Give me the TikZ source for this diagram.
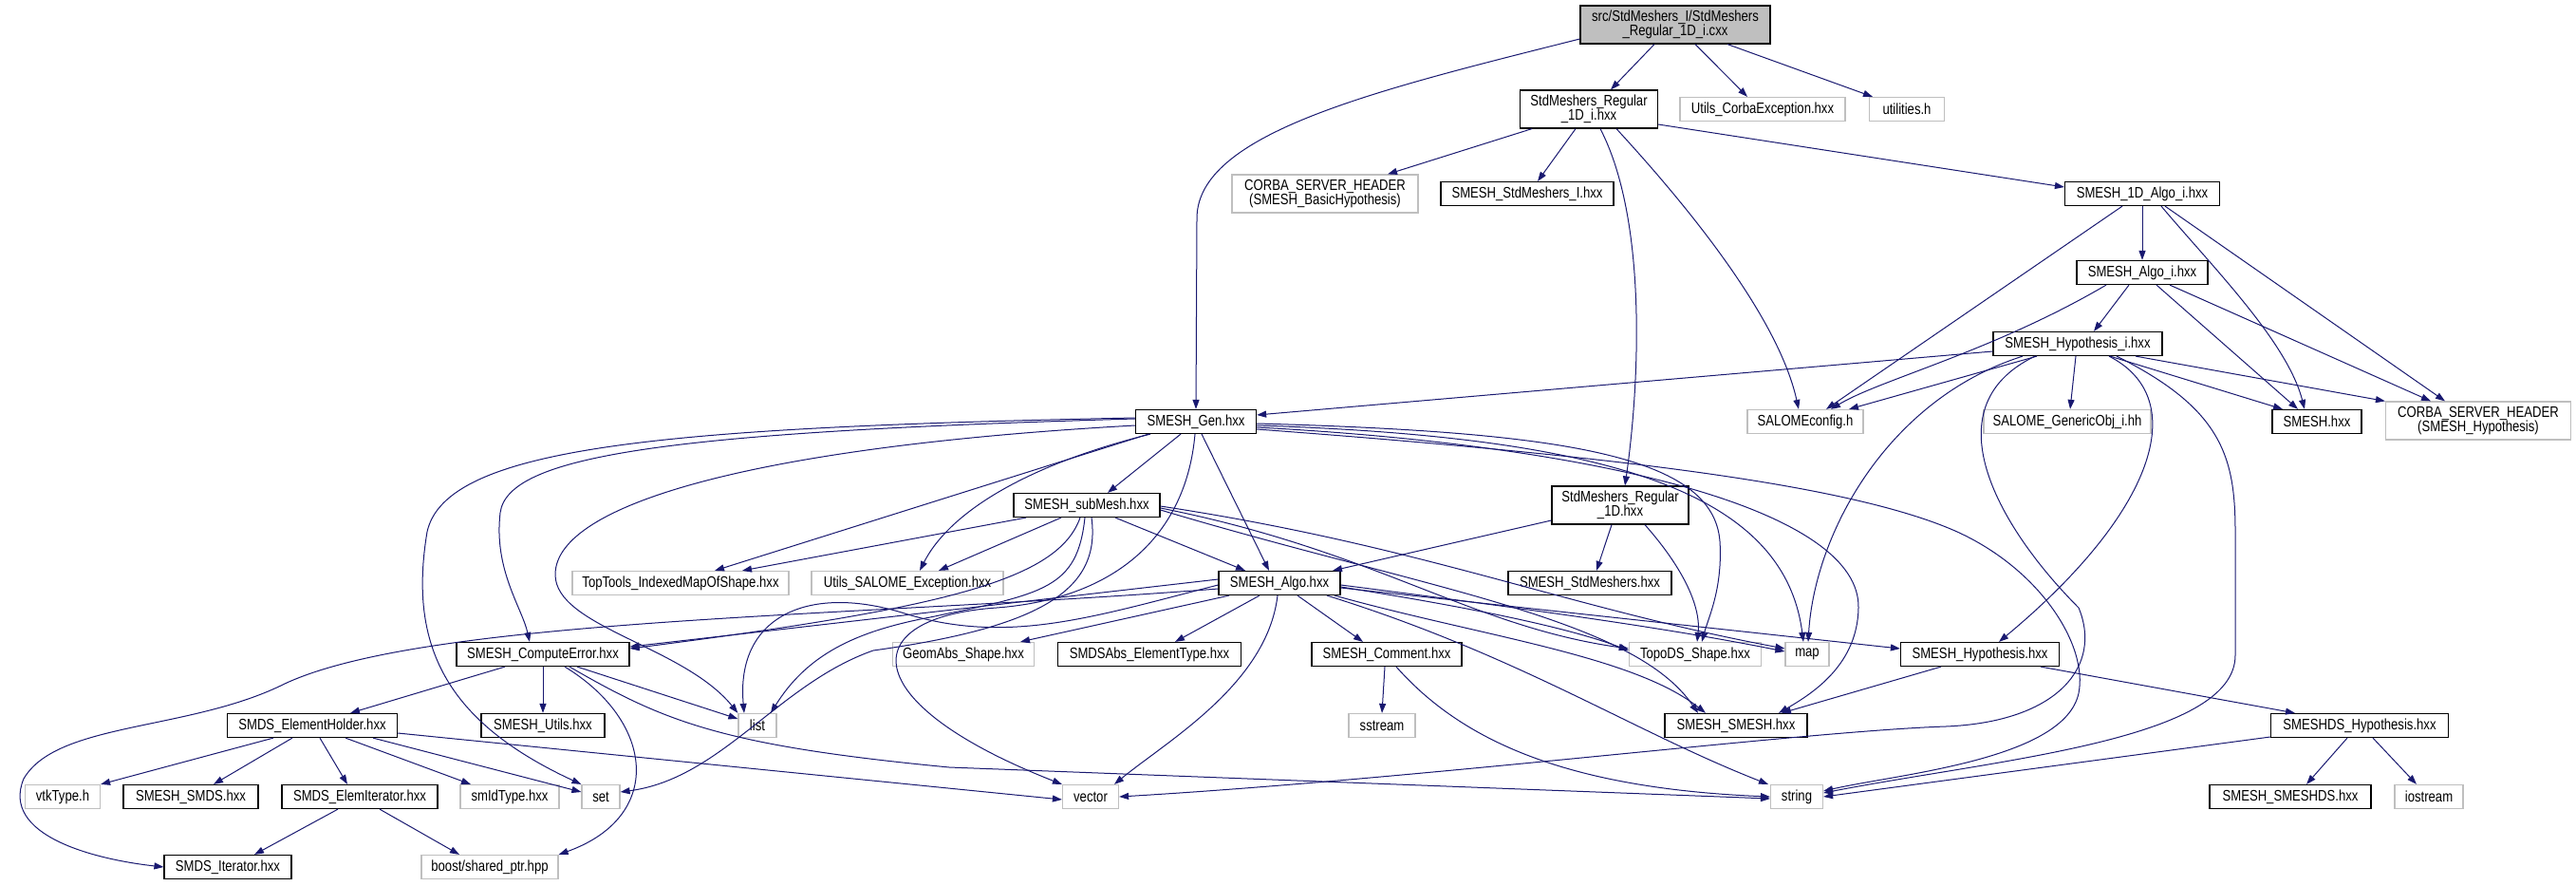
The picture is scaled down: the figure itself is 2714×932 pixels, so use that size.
\documentclass[tikz,border=0pt]{standalone}
\usepackage{fontspec}
\newfontfamily\doxfont[FakeStretch=0.82]{Liberation Sans}
\usetikzlibrary{arrows.meta}
\definecolor{depblue}{HTML}{191970}
\definecolor{extgrey}{HTML}{BFBFBF}
\tikzset{
  >={Triangle[length=10pt,width=7pt]},
  font=\doxfont\fontsize{16}{15.5}\selectfont,
  hdr/.style={draw=black,line width=1.2pt,fill=white,inner sep=3pt,
              minimum height=25pt,align=center},
  ext/.style={hdr,draw=extgrey},
  tall/.style={minimum height=40pt},
  rootfile/.style={hdr,tall,fill=extgrey},
  dep/.style={->,line width=1pt,draw=depblue},
}
\begin{document}
\begin{tikzpicture}[x=1pt,y=-1pt]
  \useasboundingbox (0,0) rectangle (2714,932);

  % top rows
  \node[rootfile,minimum width=200pt] (root) at (1765,26) {src/StdMeshers\_I/StdMeshers\\\_Regular\_1D\_i.cxx};
  \node[hdr,tall,minimum width=145pt] (r1di) at (1674,115) {StdMeshers\_Regular\\\_1D\_i.hxx};
  \node[ext,minimum width=174pt] (corbaexc) at (1857,115) {Utils\_CorbaException.hxx};
  \node[ext,minimum width=79pt] (utilities) at (2009,115) {utilities.h};
  \node[ext,tall,minimum width=196pt] (corbabasic) at (1396,204) {CORBA\_SERVER\_HEADER\\(SMESH\_BasicHypothesis)};
  \node[hdr,minimum width=182pt] (stdmi) at (1609,204) {SMESH\_StdMeshers\_I.hxx};
  \node[hdr,minimum width=163pt] (algo1d) at (2257,204) {SMESH\_1D\_Algo\_i.hxx};
  \node[hdr,minimum width=138pt] (algoi) at (2257,287) {SMESH\_Algo\_i.hxx};
  \node[hdr,minimum width=178pt] (hypi) at (2189,362) {SMESH\_Hypothesis\_i.hxx};

  \node[ext,minimum width=122pt] (salomecfg) at (1902,444) {SALOMEconfig.h};
  \node[ext,minimum width=176pt] (genobj) at (2178,444) {SALOME\_GenericObj\_i.hh};
  \node[hdr,minimum width=94pt] (smesh) at (2441,444) {SMESH.hxx};
  \node[ext,tall,minimum width=195pt] (corbahyp) at (2611,443) {CORBA\_SERVER\_HEADER\\(SMESH\_Hypothesis)};
  \node[hdr,minimum width=127pt] (gen) at (1260,444) {SMESH\_Gen.hxx};

  \node[hdr,minimum width=154pt] (submesh) at (1145,532) {SMESH\_subMesh.hxx};
  \node[hdr,tall,minimum width=144pt] (r1d) at (1707,532) {StdMeshers\_Regular\\\_1D.hxx};

  \node[ext,minimum width=228pt] (toptools) at (717,614) {TopTools\_IndexedMapOfShape.hxx};
  \node[ext,minimum width=202pt] (utilsexc) at (956,614) {Utils\_SALOME\_Exception.hxx};
  \node[hdr,minimum width=128pt] (algo) at (1348,614) {SMESH\_Algo.hxx};
  \node[hdr,minimum width=172pt] (stdm) at (1675,614) {SMESH\_StdMeshers.hxx};

  \node[hdr,minimum width=182pt] (comperr) at (572,689) {SMESH\_ComputeError.hxx};
  \node[ext,minimum width=149pt] (geomabs) at (1015,689) {GeomAbs\_Shape.hxx};
  \node[hdr,minimum width=193pt] (elemtype) at (1211,689) {SMDSAbs\_ElementType.hxx};
  \node[hdr,minimum width=158pt] (comment) at (1461,689) {SMESH\_Comment.hxx};
  \node[ext,minimum width=139pt] (topods) at (1786,689) {TopoDS\_Shape.hxx};
  \node[ext,minimum width=46pt] (map) at (1904,689) {map};
  \node[hdr,minimum width=167pt] (hyp) at (2086,689) {SMESH\_Hypothesis.hxx};

  \node[hdr,minimum width=179pt] (holder) at (329,764) {SMDS\_ElementHolder.hxx};
  \node[hdr,minimum width=130pt] (utils) at (572,764) {SMESH\_Utils.hxx};
  \node[ext,minimum width=40pt] (list) at (798,764) {list};
  \node[ext,minimum width=70pt] (sstream) at (1456,764) {sstream};
  \node[hdr,minimum width=150pt] (smeshmesh) at (1829,764) {SMESH\_SMESH.hxx};
  \node[hdr,minimum width=187pt] (dshyp) at (2486,764) {SMESHDS\_Hypothesis.hxx};

  \node[ext,minimum width=79pt] (vtk) at (66,839) {vtkType.h};
  \node[hdr,minimum width=142pt] (smds) at (201,839) {SMESH\_SMDS.hxx};
  \node[hdr,minimum width=164pt] (elemit) at (379,839) {SMDS\_ElemIterator.hxx};
  \node[ext,minimum width=104pt] (smid) at (537,839) {smIdType.hxx};
  \node[ext,minimum width=40pt] (set) at (633,839) {set};
  \node[ext,minimum width=59pt] (vector) at (1149,839) {vector};
  \node[ext,minimum width=55pt] (string) at (1893,839) {string};
  \node[hdr,minimum width=170pt] (smeshds) at (2413,839) {SMESH\_SMESHDS.hxx};
  \node[ext,minimum width=72pt] (iostream) at (2559,839) {iostream};

  \node[hdr,minimum width=134pt] (iter) at (240,913) {SMDS\_Iterator.hxx};
  \node[ext,minimum width=144pt] (boost) at (516,913) {boost/shared\_ptr.hpp};

  % root file
  \draw[dep] ([xshift=-22pt]root.south) -- ([xshift=23pt]r1di.north);
  \draw[dep] ([xshift=21pt]root.south) -- ([xshift=-16pt]corbaexc.north);
  \draw[dep] ([xshift=55pt]root.south) -- ([xshift=-36pt]utilities.north);
  \draw[dep] ([yshift=-15pt]root.west) .. controls (1450,95) and (1261,140) .. (1261,230) -- (gen.north);

  % StdMeshers_Regular_1D_i.hxx
  \draw[dep] ([xshift=-60pt]r1di.south) -- ([xshift=66pt]corbabasic.north);
  \draw[dep] ([xshift=-14pt]r1di.south) -- ([xshift=11pt]stdmi.north);
  \draw[dep] ([xshift=12pt]r1di.south) .. controls (1735,230) and (1728,400) .. ([xshift=5pt]r1d.north);
  \draw[dep] ([xshift=29pt]r1di.south) .. controls (1790,230) and (1875,340) .. ([xshift=-7pt]salomecfg.north);
  \draw[dep] ([yshift=-16pt]r1di.east) -- ([yshift=7pt]algo1d.west);

  % SMESH_1D_Algo_i.hxx, SMESH_Algo_i.hxx
  \draw[dep] ([xshift=-21pt]algo1d.south) -- ([xshift=22pt]salomecfg.north);
  \draw[dep] (algo1d) -- (algoi);
  \draw[dep] ([xshift=20pt]algo1d.south) .. controls (2330,280) and (2410,360) .. ([xshift=-13pt]smesh.north);
  \draw[dep] ([xshift=24pt]algo1d.south) -- ([xshift=-35pt]corbahyp.north);
  \draw[dep] ([xshift=-38pt]algoi.south) .. controls (2100,370) and (1980,400) .. ([xshift=27pt]salomecfg.north);
  \draw[dep] ([xshift=-14pt]algoi.south) -- ([xshift=17pt]hypi.north);
  \draw[dep] ([xshift=15pt]algoi.south) -- ([xshift=-20pt]smesh.north);
  \draw[dep] ([xshift=29pt]algoi.south) -- ([xshift=-50pt]corbahyp.north);

  % SMESH_Hypothesis_i.hxx
  \draw[dep] ([yshift=-8pt]hypi.west) -- ([yshift=7pt]gen.east);
  \draw[dep] ([xshift=-43pt]hypi.south) -- ([xshift=46pt]salomecfg.north);
  \draw[dep] ([xshift=-2pt]hypi.south) -- ([xshift=3pt]genobj.north);
  \draw[dep] ([xshift=34pt]hypi.south) -- ([xshift=-36pt]smesh.north);
  \draw[dep] ([xshift=61pt]hypi.south) -- (corbahyp.north west);
  \draw[dep] ([xshift=-58pt]hypi.south) .. controls (1990,420) and (1912,560) .. ([xshift=1pt]map.north);
  \draw[dep] ([xshift=-45pt]hypi.south) .. controls (2030,430) and (2110,560) .. (2190,640)
    .. controls (2215,700) and (2170,760) .. (2050,765) .. controls (1900,770) and (1500,820) .. (vector.east);
  \draw[dep] ([xshift=33pt]hypi.south) .. controls (2310,420) and (2270,540) .. ([xshift=20pt]hyp.north);
  \draw[dep] ([xshift=41pt]hypi.south) .. controls (2340,430) and (2355,480) .. (2355,560) -- (2355,690)
    .. controls (2355,780) and (2100,800) .. ([yshift=4pt]string.east);

  % SMESH_Gen.hxx
  \draw[dep] ([xshift=-16pt]gen.south) -- ([xshift=22pt]submesh.north);
  \draw[dep] ([xshift=6pt]gen.south) -- ([xshift=-11pt]algo.north);
  \draw[dep] ([yshift=3pt]gen.west) .. controls (700,455) and (535,480) .. (527,540)
    .. controls (520,600) and (550,640) .. ([xshift=-14pt]comperr.north);
  \draw[dep] ([yshift=4pt]gen.west) .. controls (700,450) and (470,470) .. (450,560)
    .. controls (430,680) and (470,760) .. (set.north west);
  \draw[dep] ([xshift=-50pt]gen.south) -- ([xshift=36pt]toptools.north);
  \draw[dep] ([xshift=-48pt]gen.south) .. controls (1080,490) and (1000,540) .. ([xshift=13pt]utilsexc.north);
  \draw[dep] ([yshift=-4pt]gen.west) .. controls (800,470) and (585,530) .. (585,605)
    .. controls (585,660) and (720,680) .. (list.north west);
  \draw[dep] ([xshift=-1pt]gen.south) .. controls (1250,560) and (1180,630) .. (1050,640)
    .. controls (900,650) and (900,740) .. (vector.north west);
  \draw[dep] ([yshift=-2pt]gen.east) .. controls (1650,455) and (1805,480) .. (1812,570)
    .. controls (1815,620) and (1800,650) .. ([xshift=7pt]topods.north);
  \draw[dep] ([yshift=-4pt]gen.east) .. controls (1700,460) and (1880,520) .. ([xshift=-4pt]map.north);
  \draw[dep] ([yshift=-6pt]gen.east) .. controls (1700,470) and (1960,540) .. (1958,640)
    .. controls (1957,700) and (1910,730) .. ([xshift=45pt]smeshmesh.north);
  \draw[dep] ([yshift=-8pt]gen.east) .. controls (1700,480) and (1950,510) .. (2062,560)
    .. controls (2150,600) and (2200,680) .. (2190,730) .. controls (2175,800) and (2000,815) .. ([yshift=6pt]string.east);

  % SMESH_subMesh.hxx
  \draw[dep] ([xshift=-64pt]submesh.south) -- ([xshift=65pt]toptools.north);
  \draw[dep] ([xshift=-27pt]submesh.south) -- ([xshift=33pt]utilsexc.north);
  \draw[dep] ([xshift=30pt]submesh.south) -- ([xshift=-36pt]algo.north);
  \draw[dep] ([xshift=-7pt]submesh.south) .. controls (1115,610) and (1000,640) .. ([yshift=6pt]comperr.east);
  \draw[dep] ([xshift=-2pt]submesh.south) .. controls (1135,620) and (1100,625) .. (980,650)
    .. controls (900,665) and (850,690) .. ([xshift=14pt]list.north);
  \draw[dep] ([xshift=5pt]submesh.south) .. controls (1160,620) and (1100,660) .. (920,685)
    .. controls (820,720) and (760,820) .. ([yshift=5pt]set.east);
  \draw[dep] ([yshift=-3pt]submesh.east) .. controls (1450,580) and (1550,660) .. ([yshift=6pt]topods.west);
  \draw[dep] ([yshift=-1pt]submesh.east) .. controls (1500,575) and (1650,640) .. ([yshift=6pt]map.west);
  \draw[dep] ([yshift=-5pt]submesh.east) .. controls (1500,620) and (1720,650) .. ([xshift=-40pt]smeshmesh.north);

  % SMESH_Algo.hxx
  \draw[dep] ([xshift=-21pt]algo.south) -- ([xshift=27pt]elemtype.north);
  \draw[dep] ([xshift=19pt]algo.south) -- ([xshift=-25pt]comment.north);
  \draw[dep] ([xshift=-53pt]algo.south) -- ([xshift=60pt]geomabs.north);
  \draw[dep] ([yshift=4pt]algo.west) -- ([yshift=8pt]comperr.east);
  \draw[dep] ([yshift=-2pt]algo.west) .. controls (1150,650) and (1060,680) .. (950,645)
    .. controls (850,615) and (775,650) .. ([xshift=-14pt]list.north);
  \draw[dep] ([xshift=-2pt]algo.south) .. controls (1335,720) and (1230,780) .. ([xshift=25pt]vector.north);
  \draw[dep] ([yshift=-4pt]algo.east) .. controls (1550,640) and (1650,660) .. ([yshift=4pt]topods.west);
  \draw[dep] ([yshift=-2pt]algo.east) .. controls (1600,640) and (1750,660) .. ([yshift=3pt]map.west);
  \draw[dep] ([yshift=-5pt]algo.east) -- ([yshift=6pt]hyp.west);
  \draw[dep] ([xshift=58pt]algo.south) .. controls (1560,670) and (1720,690) .. ([xshift=-32pt]smeshmesh.north);
  \draw[dep] ([xshift=50pt]algo.south) .. controls (1600,690) and (1720,770) .. ([xshift=-30pt]string.north);
  \draw[dep] ([yshift=-6pt]algo.west) .. controls (900,650) and (450,650) .. (300,720)
    .. controls (200,770) and (60,760) .. (25,820) .. controls (0,880) and (100,905) .. (iter.west);

  % StdMeshers_Regular_1D.hxx
  \draw[dep] ([yshift=-16pt]r1d.west) -- ([xshift=56pt]algo.north);
  \draw[dep] ([xshift=-9pt]r1d.south) -- ([xshift=7pt]stdm.north);
  \draw[dep] ([xshift=26pt]r1d.south) .. controls (1775,600) and (1792,640) .. ([xshift=2pt]topods.north);

  % SMESH_Comment.hxx, SMESH_Hypothesis.hxx, SMESHDS_Hypothesis.hxx
  \draw[dep] ([xshift=-2pt]comment.south) -- (sstream.north);
  \draw[dep] ([xshift=10pt]comment.south) .. controls (1540,780) and (1650,830) .. (string.west);
  \draw[dep] ([xshift=-41pt]hyp.south) -- ([xshift=48pt]smeshmesh.north);
  \draw[dep] ([xshift=64pt]hyp.south) -- ([xshift=-68pt]dshyp.north);
  \draw[dep] ([yshift=-12pt]dshyp.west) -- (string.east);
  \draw[dep] ([xshift=-13pt]dshyp.south) -- ([xshift=17pt]smeshds.north);
  \draw[dep] ([xshift=14pt]dshyp.south) -- ([xshift=-13pt]iostream.north);

  % SMESH_ComputeError.hxx
  \draw[dep] ([xshift=-40pt]comperr.south) -- ([xshift=40pt]holder.north);
  \draw[dep] (comperr) -- (utils);
  \draw[dep] ([xshift=36pt]comperr.south) -- ([yshift=7pt]list.west);
  \draw[dep] ([xshift=23pt]comperr.south) .. controls (690,760) and (700,860) .. (boost.north east);
  \draw[dep] ([xshift=28pt]comperr.south) .. controls (700,760) and (760,785) .. (1000,808) -- ([yshift=-2pt]string.west);

  % SMDS_ElementHolder.hxx, SMDS_ElemIterator.hxx
  \draw[dep] ([xshift=-41pt]holder.south) -- (vtk.north east);
  \draw[dep] ([xshift=-21pt]holder.south) -- ([xshift=24pt]smds.north);
  \draw[dep] ([xshift=8pt]holder.south) -- ([xshift=-13pt]elemit.north);
  \draw[dep] ([xshift=35pt]holder.south) -- ([xshift=-41pt]smid.north);
  \draw[dep] ([xshift=64pt]holder.south) -- ([yshift=5pt]set.west);
  \draw[dep] ([yshift=-8pt]holder.east) -- ([yshift=-3pt]vector.west);
  \draw[dep] ([xshift=-23pt]elemit.south) -- ([xshift=28pt]iter.north);
  \draw[dep] ([xshift=21pt]elemit.south) -- ([xshift=-32pt]boost.north);
\end{tikzpicture}
\end{document}
